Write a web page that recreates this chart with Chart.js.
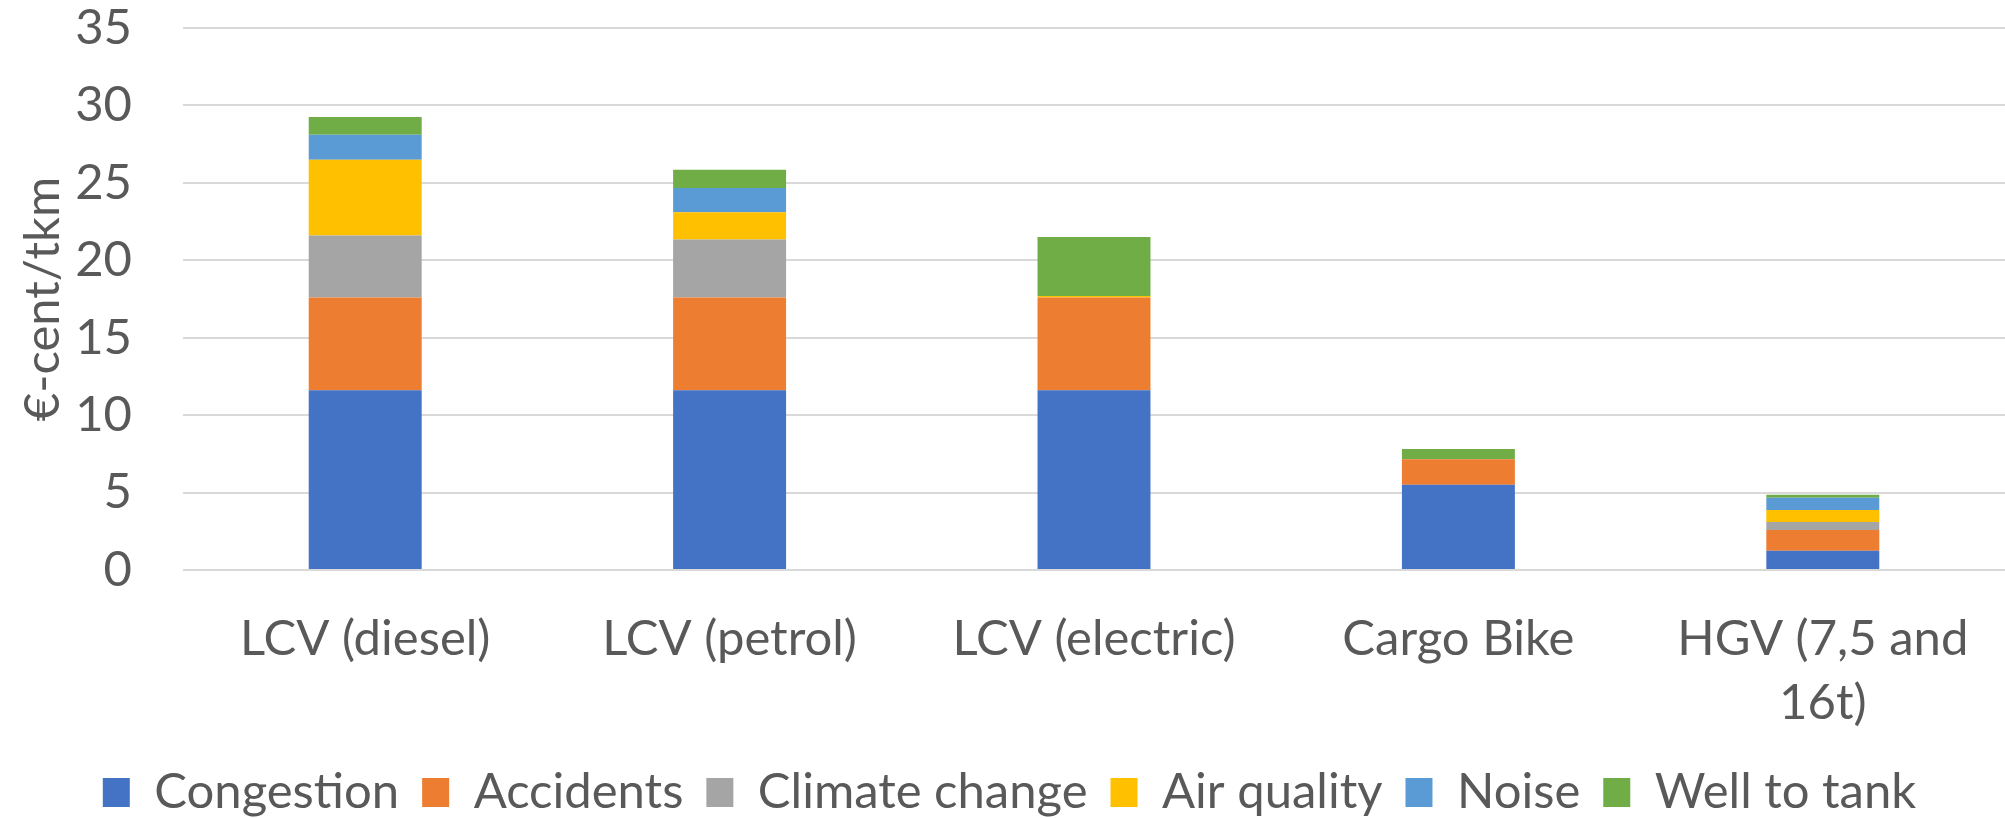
<!DOCTYPE html>
<html>
<head>
<meta charset="utf-8">
<script src="https://cdn.jsdelivr.net/npm/chart.js@4/dist/chart.umd.min.js"></script>
<style>
  html, body { margin: 0; padding: 0; background: #fff; }
  #wrap { width: 2005px; height: 818px; }
</style>
</head>
<body>
<div id="wrap"><canvas id="chart" width="2005" height="818"></canvas></div>
<script>
// categories (x axis)
const vehicles = ["LCV (diesel)", "LCV (petrol)", "LCV (electric)", "Cargo Bike", ["HGV (7,5 and", "16t)"]];

// external cost components, €-cent per tkm
const congestion    = [11.6, 11.6, 11.6, 5.5, 1.25];
const accidents     = [6.0, 6.0, 6.0, 1.65, 1.33];
const climateChange = [4.0, 3.75, 0, 0, 0.52];
const airQuality    = [4.9, 1.75, 0.1, 0, 0.77];
const noise         = [1.6, 1.57, 0, 0, 0.8];
const wellToTank    = [1.15, 1.18, 3.8, 0.67, 0.19];

const yTicks = [0, 5, 10, 15, 20, 25, 30, 35];

const textColor = "#595959";
const fontFamily = "Lato, 'Open Sans', sans-serif";

const series = [
  { label: "Congestion", data: congestion, color: "#4472C4" },
  { label: "Accidents", data: accidents, color: "#ED7D31" },
  { label: "Climate change", data: climateChange, color: "#A5A5A5" },
  { label: "Air quality", data: airQuality, color: "#FFC000" },
  { label: "Noise", data: noise, color: "#5B9BD5" },
  { label: "Well to tank", data: wellToTank, color: "#70AD47" },
];

new Chart(document.getElementById("chart"), {
  type: "bar",
  data: {
    labels: vehicles,
    datasets: series.map((s) => ({
      label: s.label,
      data: s.data,
      backgroundColor: s.color,
      borderWidth: 0,
      categoryPercentage: 1,
      barPercentage: 0.31,
    })),
  },
  options: {
    responsive: false,
    animation: false,
    layout: { padding: { top: 0, right: 0, bottom: -9, left: 14 } },
    plugins: {
      legend: {
        position: "bottom",
        labels: {
          color: textColor,
          font: { family: fontFamily, size: 49 },
          boxWidth: 27,
          boxHeight: 29,
          padding: 23,
        },
      },
      tooltip: { enabled: false },
    },
    scales: {
      x: {
        stacked: true,
        // fixed band for the two-line labels, no side padding
        afterFit: (axis) => { axis.height = 175; axis.paddingLeft = 0; axis.paddingRight = 0; },
        grid: { display: false, drawTicks: false },
        border: { display: false },
        ticks: {
          color: textColor,
          font: { family: fontFamily, size: 49, lineHeight: 1.29 },
          maxRotation: 0,
          autoSkip: false,
          padding: 38,
        },
      },
      y: {
        stacked: true,
        min: 0,
        max: 35,
        afterBuildTicks: (axis) => { axis.ticks = yTicks.map((v) => ({ value: v })); },
        // keep the tick padding from pushing the plot down
        afterFit: (axis) => { axis.width = 169; axis.paddingTop = 28; axis.paddingBottom = 0; },
        grid: { color: "#d9d9d9", lineWidth: 2, drawTicks: false },
        border: { display: false },
        ticks: {
          color: textColor,
          font: { family: fontFamily, size: 49 },
          padding: 51,
        },
        title: {
          display: true,
          text: "€-cent/tkm",
          color: textColor,
          font: { family: fontFamily, size: 49 },
          padding: { top: 0, bottom: 7 },
        },
      },
    },
  },
});
</script>
</body>
</html>
